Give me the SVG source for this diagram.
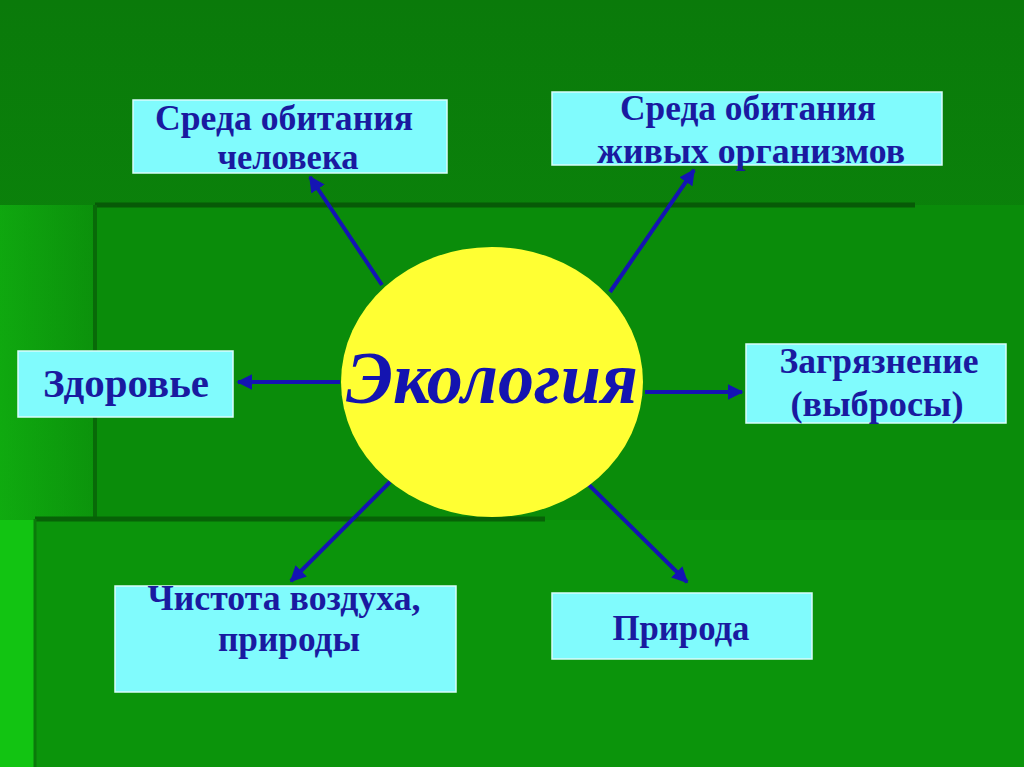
<svg xmlns="http://www.w3.org/2000/svg" width="1024" height="767" viewBox="0 0 1024 767">
<defs>
<linearGradient id="bg" x1="0" y1="0" x2="0" y2="1">
<stop offset="0" stop-color="#0a7a0a"/>
<stop offset="1" stop-color="#0c930c"/>
</linearGradient>
<linearGradient id="lft" x1="0" y1="0" x2="1" y2="0">
<stop offset="0" stop-color="#12c012"/>
<stop offset="1" stop-color="#0c9a0c"/>
</linearGradient>
<marker id="ah" viewBox="0 0 10 10" refX="9" refY="5" markerWidth="4" markerHeight="4" orient="auto" markerUnits="strokeWidth">
<path d="M0,0 L10,5 L0,10 z" fill="#1414b4"/>
</marker>
<style>
.box{fill:#80fbfd;stroke:#d8fdfd;stroke-width:1.5}
.lbl{font-family:"Liberation Serif",serif;font-weight:bold;fill:#1a1aa0;text-anchor:middle}
.conn{stroke:#1414b4;stroke-width:4;fill:none;marker-end:url(#ah)}
</style>
</defs>
<g id="background">
<rect x="0" y="0" width="1024" height="767" fill="url(#bg)"/>
<rect x="0" y="205" width="95" height="562" fill="url(#lft)" opacity="0.6"/>
<rect x="95" y="205" width="929" height="315" fill="#0a8c0a"/>
<rect x="35" y="520" width="989" height="247" fill="#0b940b"/>
<rect x="0" y="520" width="35" height="247" fill="#12c412"/>
<line x1="95" y1="205" x2="915" y2="205" stroke="#075a07" stroke-width="5"/>
<line x1="95" y1="205" x2="95" y2="520" stroke="#086a08" stroke-width="4"/>
<line x1="35" y1="519" x2="545" y2="519" stroke="#076207" stroke-width="5"/>
<line x1="35" y1="519" x2="35" y2="767" stroke="#0a7a0a" stroke-width="3"/>
</g>
<g id="connectors">
<line class="conn" x1="382" y1="285" x2="310" y2="177"/>
<line class="conn" x1="610" y1="292" x2="694" y2="170"/>
<line class="conn" x1="340" y1="382" x2="238" y2="382"/>
<line class="conn" x1="645" y1="392" x2="742" y2="392"/>
<line class="conn" x1="390" y1="482" x2="291" y2="581"/>
<line class="conn" x1="587" y1="483" x2="687" y2="582"/>
</g>
<g id="center">
<ellipse cx="492" cy="382" rx="151" ry="135" fill="#ffff33"/>
<text x="492" y="403" font-family="Liberation Serif, serif" font-style="italic" font-weight="bold" font-size="74" fill="#1414b0" text-anchor="middle" textLength="292" lengthAdjust="spacingAndGlyphs">Экология</text>
</g>
<g id="n1">
<rect class="box" x="133" y="100" width="314" height="73"/>
<text class="lbl" x="284" y="130" font-size="36" textLength="258" lengthAdjust="spacingAndGlyphs">Среда обитания</text>
<text class="lbl" x="288" y="169" font-size="36" textLength="141" lengthAdjust="spacingAndGlyphs">человека</text>
</g>
<g id="n2">
<rect class="box" x="552" y="92" width="390" height="73"/>
<text class="lbl" x="748" y="120" font-size="36" textLength="256" lengthAdjust="spacingAndGlyphs">Среда обитания</text>
<text class="lbl" x="751" y="163" font-size="36" textLength="308" lengthAdjust="spacingAndGlyphs">живых организмов</text>
</g>
<g id="n3">
<rect class="box" x="18" y="351" width="215" height="66"/>
<text class="lbl" x="126" y="397" font-size="39" textLength="166" lengthAdjust="spacingAndGlyphs">Здоровье</text>
</g>
<g id="n4">
<rect class="box" x="746" y="344" width="260" height="79"/>
<text class="lbl" x="879" y="373" font-size="35" textLength="199" lengthAdjust="spacingAndGlyphs">Загрязнение</text>
<text class="lbl" x="877" y="416" font-size="35" textLength="173" lengthAdjust="spacingAndGlyphs">(выбросы)</text>
</g>
<g id="n5">
<rect class="box" x="115" y="586" width="341" height="106"/>
<text class="lbl" x="284" y="610" font-size="36" textLength="273" lengthAdjust="spacingAndGlyphs">Чистота воздуха,</text>
<text class="lbl" x="289" y="651" font-size="36" textLength="142" lengthAdjust="spacingAndGlyphs">природы</text>
</g>
<g id="n6">
<rect class="box" x="552" y="593" width="260" height="66"/>
<text class="lbl" x="681" y="640" font-size="35" textLength="137" lengthAdjust="spacingAndGlyphs">Природа</text>
</g>
</svg>
